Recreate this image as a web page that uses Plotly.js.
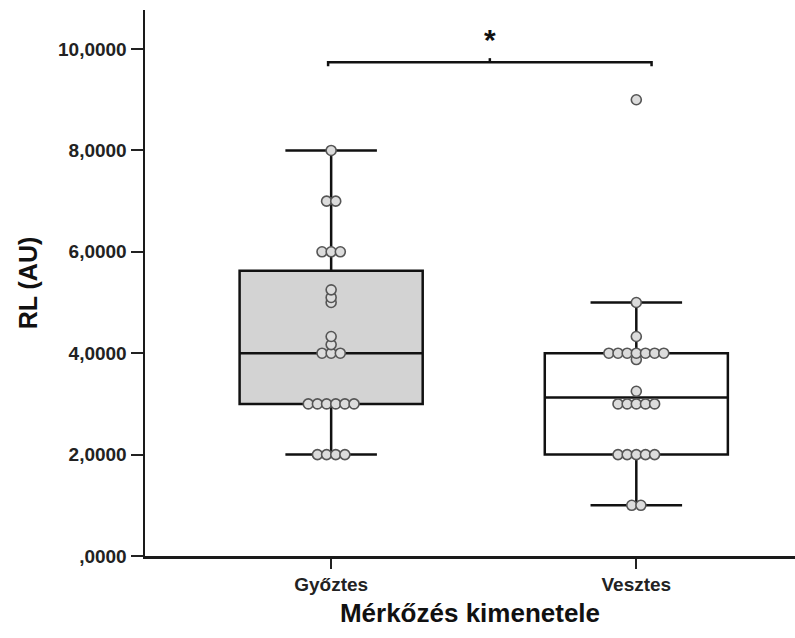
<!DOCTYPE html>
<html>
<head>
<meta charset="utf-8">
<script src="https://cdn.plot.ly/plotly-3.0.1.min.js"></script>
<style>html,body{margin:0;padding:0;background:#fff;}#chart{width:795px;height:638px;}</style>
</head>
<body>
<div id="chart"></div>
<script>
const categories = ["Győztes", "Vesztes"];
const gyoztesValues = [2,2,2,2, 3,3,3,3,3,3, 4,4,4, 4.17, 4.33, 5, 5.1, 5.25, 6,6,6, 7,7, 8];
const vesztesValues = [1,1, 2,2,2,2,2, 3,3,3,3,3, 3.25, 3.875, 4,4,4,4,4,4,4, 4.33, 5, 9];
const yTickVals = [0, 2, 4, 6, 8, 10];
const yTickText = [",0000", "2,0000", "4,0000", "6,0000", "8,0000", "10,0000"];
const groups = [gyoztesValues, vesztesValues];
const boxFills = ["#d3d3d3", "#ffffff"];

const FONT = "Liberation Sans, Arial, sans-serif";
const DOT_STEP = 0.03;

// horizontal dot-plot offsets: identical values spread side by side, centred
function dotOffsets(vals) {
  const counts = {};
  vals.forEach(v => counts[v] = (counts[v] || 0) + 1);
  const seen = {};
  return vals.map(v => {
    const i = seen[v] = (seen[v] === undefined ? 0 : seen[v] + 1);
    return (i - (counts[v] - 1) / 2) * DOT_STEP;
  });
}

const traces = [];
groups.forEach((vals, gi) => {
  traces.push({
    type: "box",
    x: vals.map(() => gi),
    y: vals,
    width: 0.6,
    whiskerwidth: 0.5,
    boxpoints: "outliers",
    quartilemethod: "exclusive",
    fillcolor: boxFills[gi],
    line: {color: "#111", width: 2.5},
    marker: {opacity: 0, size: 1},
    hoverinfo: "skip",
    showlegend: false
  });
});
groups.forEach((vals, gi) => {
  const offs = dotOffsets(vals);
  traces.push({
    type: "scatter",
    mode: "markers",
    x: vals.map((v, i) => gi + offs[i]),
    y: vals,
    marker: {size: 10, color: "#dcdcdc", line: {color: "#555", width: 1.6}},
    showlegend: false,
    hoverinfo: "y"
  });
});

const layout = {
  width: 795, height: 638,
  margin: {l: 145, r: 0, t: 10, b: 82},
  paper_bgcolor: "#fff", plot_bgcolor: "#fff",
  showlegend: false,
  xaxis: {
    range: [-0.61, 1.52],
    tickvals: [0, 1],
    ticktext: categories,
    ticks: "outside", ticklen: 10, tickwidth: 2, tickcolor: "#222",
    showline: true, linecolor: "#1a1a1a", linewidth: 2.5,
    showgrid: false, zeroline: false,
    tickfont: {family: FONT, size: 19, color: "#222", weight: "bold"},
    title: {text: "Mérkőzés kimenetele", standoff: 10, font: {family: FONT, size: 26, color: "#111", weight: "bold"}}
  },
  yaxis: {
    range: [0, 10.77],
    tickvals: yTickVals,
    ticktext: yTickText,
    ticks: "outside", ticklen: 12, tickwidth: 2, tickcolor: "#222",
    showline: true, linecolor: "#1a1a1a", linewidth: 2.5,
    showgrid: false, zeroline: false,
    tickfont: {family: FONT, size: 19, color: "#222", weight: "bold"},
    title: {text: "RL (AU)", standoff: 14, font: {family: FONT, size: 25, color: "#111", weight: "bold"}}
  },
  shapes: [
    {type: "path", xref: "x", yref: "y",
     path: "M -0.01,9.66 L -0.01,9.74 L 1.05,9.74 L 1.05,9.66",
     line: {color: "#111", width: 2.5}},
    {type: "line", xref: "x", yref: "y", x0: 0.52, x1: 0.52, y0: 9.74, y1: 9.82,
     line: {color: "#111", width: 2.5}}
  ],
  annotations: [
    {x: 0.52, y: 10.18, xref: "x", yref: "y", text: "*", showarrow: false,
     font: {family: FONT, size: 30, color: "#111", weight: "bold"}}
  ]
};

Plotly.newPlot("chart", traces, layout, {displayModeBar: false, staticPlot: true});
</script>
</body>
</html>
